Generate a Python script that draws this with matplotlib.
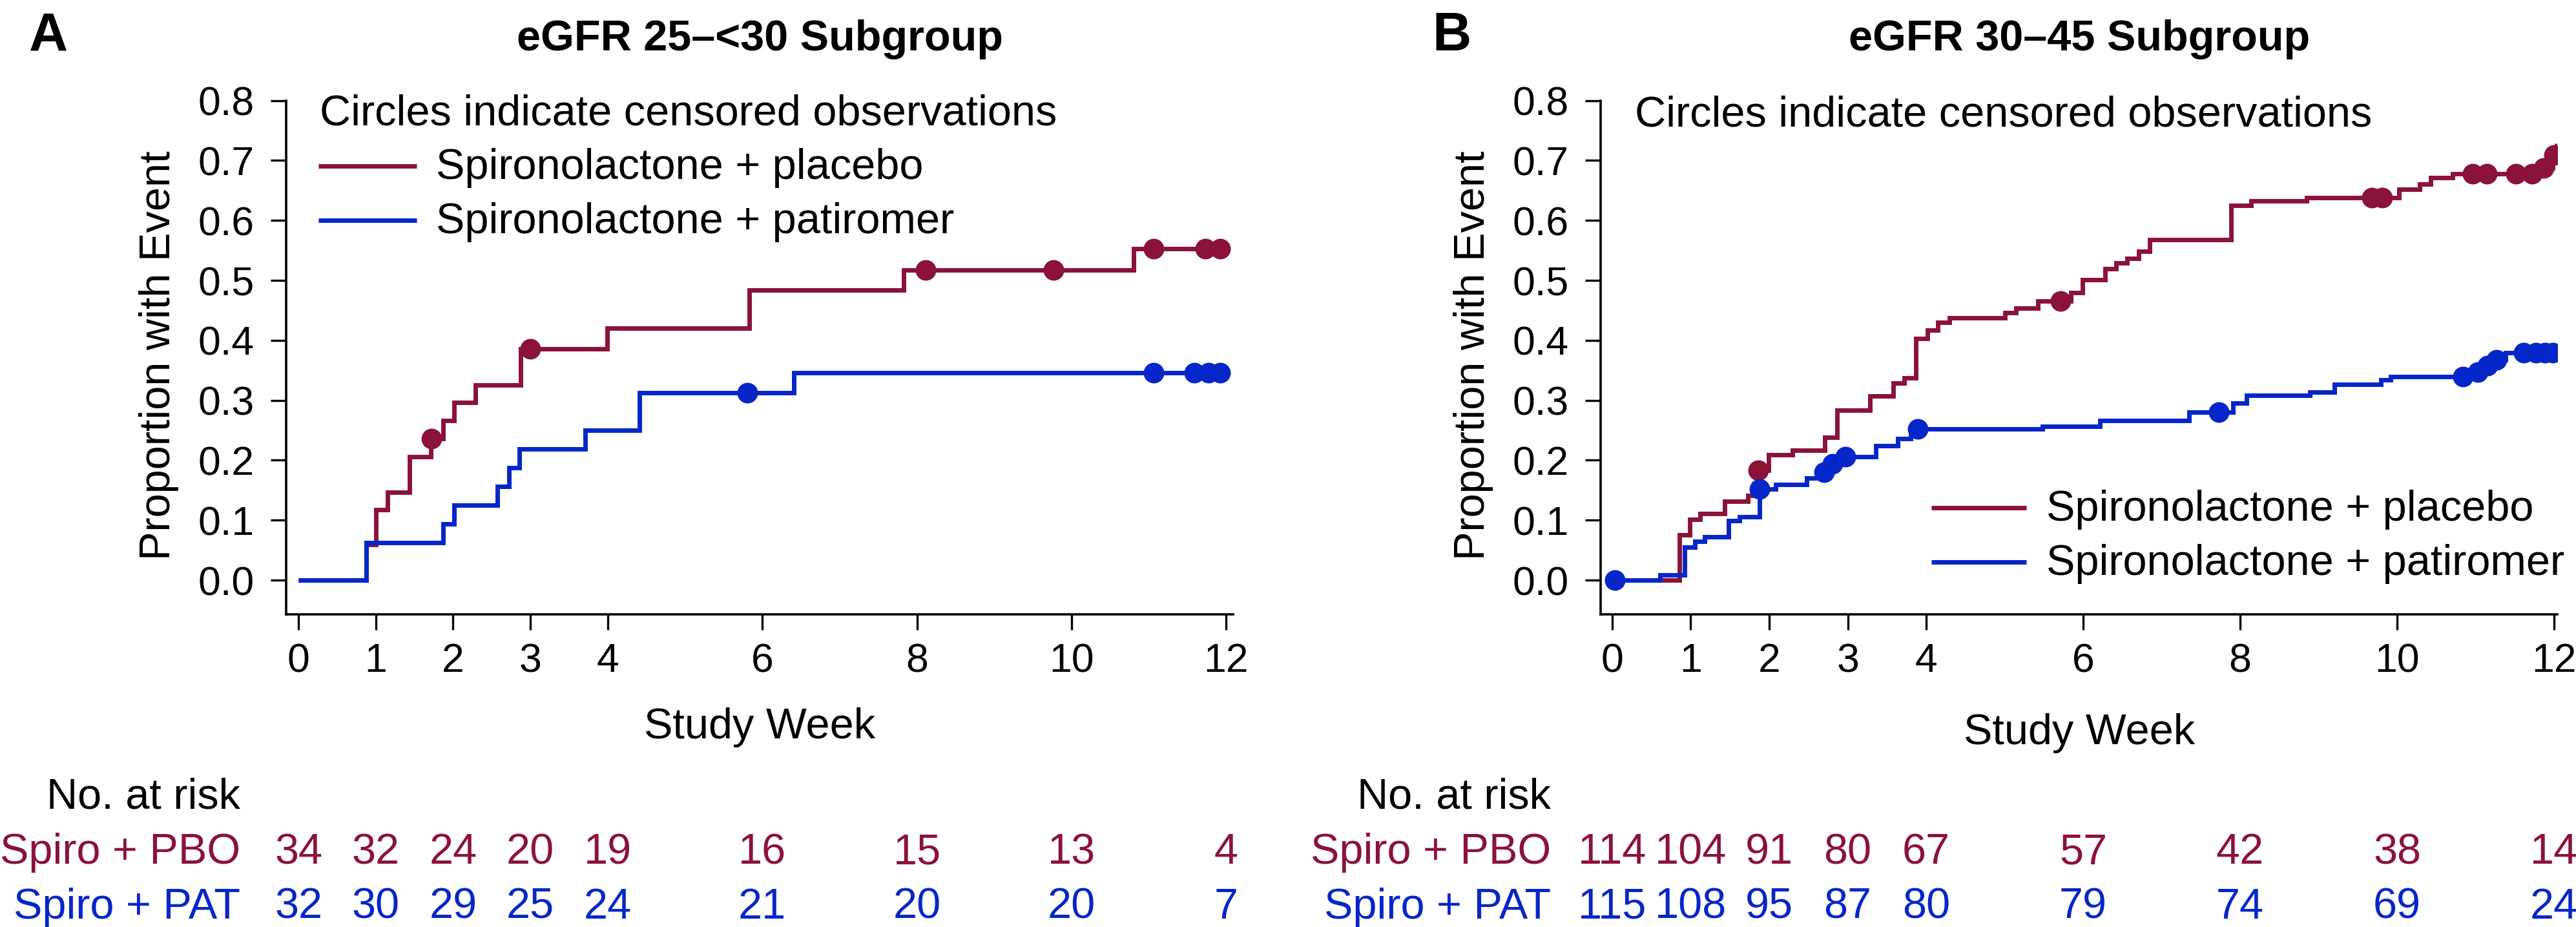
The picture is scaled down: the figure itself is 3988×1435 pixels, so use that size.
"""Cumulative proportion with event (hyperkalemia) by eGFR subgroup, with risk table."""

import numpy as np
import matplotlib
matplotlib.use("Agg")
import matplotlib.pyplot as plt
from matplotlib.lines import Line2D
from matplotlib.transforms import blended_transform_factory

W, H, DPI = 3988, 1435, 200
PBO = "#8B1238"
PAT = "#0526C8"

plt.rcParams.update({
    "font.family": ["Liberation Sans", "DejaVu Sans"],
    "font.size": 24,
    "axes.linewidth": 1.3,
})

# ---- data ------------------------------------------------------------------
WEEK_TICKS = [0, 1, 2, 3, 4, 6, 8, 10, 12]
PROP_TICKS = [0.0, 0.1, 0.2, 0.3, 0.4, 0.5, 0.6, 0.7, 0.8]

# Panel A: eGFR 25-<30
A_PBO_T = [0, 0.88, 1.00, 1.15, 1.44, 1.71, 1.87, 2.01, 2.29, 2.87, 3.99,
           5.83, 7.83, 10.80, 11.92]
A_PBO_P = [0, 0.059, 0.118, 0.147, 0.206, 0.236, 0.266, 0.296, 0.326, 0.386,
           0.420, 0.484, 0.517, 0.553, 0.553]
A_PBO_CENS = [1.72, 3.00, 8.11, 9.77, 11.06, 11.73, 11.92]

A_PAT_T = [0, 0.875, 1.87, 2.01, 2.57, 2.72, 2.86, 3.71, 4.41, 6.41, 11.92]
A_PAT_P = [0, 0.0625, 0.094, 0.125, 0.156, 0.1875, 0.219, 0.250, 0.3125,
           0.346, 0.346]
A_PAT_CENS = [5.81, 11.06, 11.59, 11.77, 11.92]

A_RISK_PBO = [34, 32, 24, 20, 19, 16, 15, 13, 4]
A_RISK_PAT = [32, 30, 29, 25, 24, 21, 20, 20, 7]

# Panel B: eGFR 30-45
B_PBO_T = [0, 0.86, 0.985, 1.12, 1.43, 1.73, 1.85, 1.99, 2.30, 2.71, 2.86,
           3.28, 3.58, 3.72, 3.87, 4.02, 4.15, 4.30, 5.00, 5.14, 5.42, 5.84,
           5.99, 6.28, 6.42, 6.56, 6.71, 6.85, 7.88, 8.14, 8.85, 10.02, 10.29,
           10.43, 10.71, 11.80, 11.98, 12.03]
B_PBO_P = [0, 0.076, 0.101, 0.111, 0.132, 0.141, 0.183, 0.209, 0.217, 0.238,
           0.283, 0.307, 0.329, 0.337, 0.403, 0.417, 0.430, 0.438, 0.446,
           0.454, 0.466, 0.480, 0.501, 0.519, 0.529, 0.537, 0.549, 0.568,
           0.625, 0.633, 0.638, 0.652, 0.661, 0.671, 0.678, 0.688, 0.709,
           0.728]
B_PBO_CENS = [1.86, 5.71, 9.68, 9.81, 10.96, 11.14, 11.51, 11.72, 11.87, 12.00]

B_PAT_T = [0, 0.61, 0.92, 1.05, 1.18, 1.48, 1.62, 1.88, 2.08, 2.48, 2.68,
           2.78, 2.93, 3.36, 3.64, 3.80, 5.48, 6.21, 7.35, 7.91, 8.08, 8.89,
           9.20, 9.79, 9.92, 10.95, 11.10, 11.22, 11.38, 12.00]
B_PAT_P = [0, 0.009, 0.055, 0.065, 0.072, 0.099, 0.106, 0.152, 0.160, 0.170,
           0.180, 0.194, 0.206, 0.224, 0.236, 0.252, 0.257, 0.266, 0.280,
           0.295, 0.308, 0.314, 0.327, 0.334, 0.340, 0.347, 0.358, 0.368,
           0.379, 0.379]
B_PAT_CENS = [0.03, 1.88, 2.70, 2.81, 2.97, 3.89, 7.73, 10.84, 11.03, 11.15,
              11.27, 11.61, 11.77, 11.88, 11.98]

B_RISK_PBO = [114, 104, 91, 80, 67, 57, 42, 38, 14]
B_RISK_PAT = [115, 108, 95, 87, 80, 79, 74, 69, 24]

LABEL_PBO = "Spironolactone + placebo"
LABEL_PAT = "Spironolactone + patiromer"


def fx(px):
    return px / W


def fy(py):
    return 1 - py / H


def level_at(t, times, props):
    idx = np.searchsorted(times, t, side="right") - 1
    return np.asarray(props)[idx]


def km_curve(ax, times, props, cens, color):
    ax.plot(times, props, drawstyle="steps-post", color=color, lw=2.5,
            solid_joinstyle="miter", solid_capstyle="butt")
    ax.plot(cens, level_at(cens, times, props), "o", ms=11.5, color=color,
            mec=color, mew=0, zorder=4)


def panel(fig, left_px, right_px, xlim, letter, title, pbo, pat, risk_pbo,
          risk_pat, legend_px, table_right_px, title_cx, week_base):
    top_px, bot_px = 155.6, 951
    ax = fig.add_axes([fx(left_px), fy(bot_px), fx(right_px - left_px),
                       (bot_px - top_px) / H])
    km_curve(ax, *pbo, PBO)
    km_curve(ax, *pat, PAT)

    ax.set_xlim(*xlim)
    ax.set_ylim(-0.057, 0.8)
    ax.set_xticks(WEEK_TICKS)
    ax.set_yticks(PROP_TICKS)
    ax.set_yticklabels([f"{v:.1f}" for v in PROP_TICKS])
    ax.tick_params(direction="out", length=8.6, width=1.2, labelsize=22.5)
    ax.tick_params(axis="x", pad=7)
    ax.tick_params(axis="y", pad=9)
    ax.spines["top"].set_visible(False)
    ax.spines["right"].set_visible(False)

    fig.text(fx(left_px - 197), fy(550), "Proportion with Event", rotation=90,
             ha="center", va="center", fontsize=24)
    fig.text(fx(title_cx), fy(week_base), "Study Week", ha="center",
             va="baseline", fontsize=24)
    fig.text(fx(title_cx), fy(78), title, ha="center", va="baseline",
             fontsize=24, fontweight="bold")
    fig.text(fx(left_px - 398 if letter == "A" else left_px - 261), fy(78),
             letter, ha="left", va="baseline", fontsize=30, fontweight="bold")

    # legend
    cx, c_base, hx0, hx1, tx, y1, y2 = legend_px
    fig.text(fx(cx), fy(c_base), "Circles indicate censored observations",
             ha="left", va="baseline", fontsize=24)
    for yy, col, lab in ((y1, PBO, LABEL_PBO), (y2, PAT, LABEL_PAT)):
        fig.add_artist(Line2D([fx(hx0), fx(hx1)], [fy(yy), fy(yy)],
                              transform=fig.transFigure, color=col, lw=2.5,
                              solid_capstyle="butt"))
        fig.text(fx(tx), fy(yy + 20), lab, ha="left", va="baseline",
                 fontsize=24)

    # risk table
    trans = blended_transform_factory(ax.transData, fig.transFigure)
    fig.text(fx(table_right_px), fy(1252), "No. at risk", ha="right",
             va="baseline", fontsize=24)
    for base, col, lab, counts in ((1337, PBO, "Spiro + PBO", risk_pbo),
                                   (1422, PAT, "Spiro + PAT", risk_pat)):
        fig.text(fx(table_right_px), fy(base), lab, ha="right",
                 va="baseline", fontsize=24, color=col)
        for wk, n in zip(WEEK_TICKS, counts):
            ax.text(wk, fy(base), str(n), transform=trans, ha="center",
                    va="baseline", fontsize=24, color=col, clip_on=False)
    return ax


fig = plt.figure(figsize=(W / DPI, H / DPI), dpi=DPI)

panel(fig, 443, 1909, (-0.16, 12.09), "A", "eGFR 25\u2013<30 Subgroup",
      (A_PBO_T, A_PBO_P, A_PBO_CENS), (A_PAT_T, A_PAT_P, A_PAT_CENS),
      A_RISK_PBO, A_RISK_PAT,
      (495, 194, 493, 645, 675, 257, 341), 372, 1176, 1143)

panel(fig, 2478, 3959, (-0.148, 12.04), "B", "eGFR 30\u201345 Subgroup",
      (B_PBO_T, B_PBO_P, B_PBO_CENS), (B_PAT_T, B_PAT_P, B_PAT_CENS),
      B_RISK_PBO, B_RISK_PAT,
      (2531, 195, 2990, 3137, 3168, 786, 870), 2401, 3219, 1152)

fig.savefig("out.png", dpi=DPI)
